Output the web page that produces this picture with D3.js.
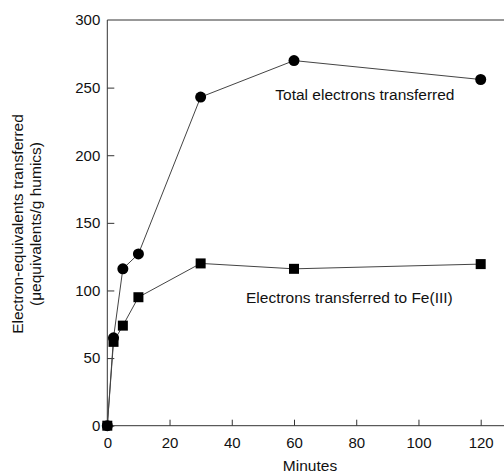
<!DOCTYPE html>
<html>
<head>
<meta charset="utf-8">
<script src="https://cdn.jsdelivr.net/npm/d3@7"></script>
<style>
html,body{margin:0;padding:0;background:#fff;}
svg{display:block;}
text{font-family:"Liberation Sans",Arial,sans-serif;fill:#111;}
</style>
</head>
<body>
<svg id="chart" width="504" height="476"></svg>
<script>
const minutes = [0, 2, 5, 10, 30, 60, 120];
const totalElectrons = [0, 65, 116, 127, 243, 270, 256];
const feElectrons = [0, 62, 74, 95, 120, 116, 119.5];
const xTicks = [0, 20, 40, 60, 80, 100, 120];
const yTicks = [0, 50, 100, 150, 200, 250, 300];
const xTitle = "Minutes";
const yTitle1 = "Electron-equivalents transferred";
const yTitle2 = "(\u03bcequivalents/g humics)";
const labelTotal = "Total electrons transferred";
const labelFe = "Electrons transferred to Fe(III)";

(function () {
const svg = d3.select("#chart");
const pLeft = 107.3, pTop = 20, pBottom = 425.7, pRight = 504;
const x = d3.scaleLinear().domain([0, 120]).range([pLeft, 480.7]);
const y = d3.scaleLinear().domain([0, 300]).range([pBottom, pTop]);

const axisColor = "#333";
const fontFam = "Liberation Sans, Arial, sans-serif";

// frame top
svg.append("line").attr("x1", pLeft).attr("x2", pRight).attr("y1", pTop).attr("y2", pTop)
  .attr("stroke", axisColor).attr("stroke-width", 1);

// x axis (ticks inward)
const gx = svg.append("g").attr("transform", `translate(0,${pBottom})`)
  .call(d3.axisBottom(x).tickValues(xTicks).tickSize(0).tickPadding(12).tickFormat(d3.format("d")));
gx.select(".domain").remove();
gx.append("line").attr("x1", pLeft).attr("x2", pRight).attr("stroke", axisColor);
gx.selectAll(".tick").append("line").attr("y1", 0).attr("y2", -6).attr("stroke", axisColor);
gx.selectAll(".tick text").attr("font-size", 15).attr("font-family", fontFam).attr("fill", "#111");

// y axis
const gy = svg.append("g").attr("transform", `translate(${pLeft},0)`)
  .call(d3.axisLeft(y).tickValues(yTicks).tickSize(0).tickPadding(7).tickFormat(d3.format("d")));
gy.select(".domain").remove();
gy.append("line").attr("y1", pTop).attr("y2", pBottom).attr("stroke", axisColor);
gy.selectAll(".tick").filter(d => d !== 300).append("line").attr("x1", 0).attr("x2", 7).attr("stroke", axisColor);
gy.selectAll(".tick text").attr("font-size", 15).attr("font-family", fontFam).attr("fill", "#111");

// lines
const line = d3.line().x((d, i) => x(minutes[i])).y(d => y(d));
svg.append("path").datum(totalElectrons).attr("d", line)
  .attr("fill", "none").attr("stroke", "#444").attr("stroke-width", 1);
svg.append("path").datum(feElectrons).attr("d", line)
  .attr("fill", "none").attr("stroke", "#444").attr("stroke-width", 1);

// markers
svg.append("g").selectAll("circle").data(totalElectrons).join("circle")
  .attr("cx", (d, i) => x(minutes[i])).attr("cy", d => y(d)).attr("r", 5.5).attr("fill", "#000");
const s = 10;
svg.append("g").selectAll("rect").data(feElectrons).join("rect")
  .attr("x", (d, i) => x(minutes[i]) - s / 2).attr("y", d => y(d) - s / 2)
  .attr("width", s).attr("height", s).attr("fill", "#000");

// annotations
svg.append("text").attr("x", 275.3).attr("y", 100).attr("font-size", 15.5).text(labelTotal);
svg.append("text").attr("x", 246).attr("y", 303.3).attr("font-size", 15.5).text(labelFe);

// titles
svg.append("text").attr("x", 310).attr("y", 471).attr("text-anchor", "middle").attr("font-size", 15.5).text(xTitle);
svg.append("text").attr("transform", "translate(22.5,224) rotate(-90)").attr("text-anchor", "middle").attr("font-size", 15.5).text(yTitle1);
svg.append("text").attr("transform", "translate(41,224) rotate(-90)").attr("text-anchor", "middle").attr("font-size", 15.5).text(yTitle2);
})();
</script>
</body>
</html>
